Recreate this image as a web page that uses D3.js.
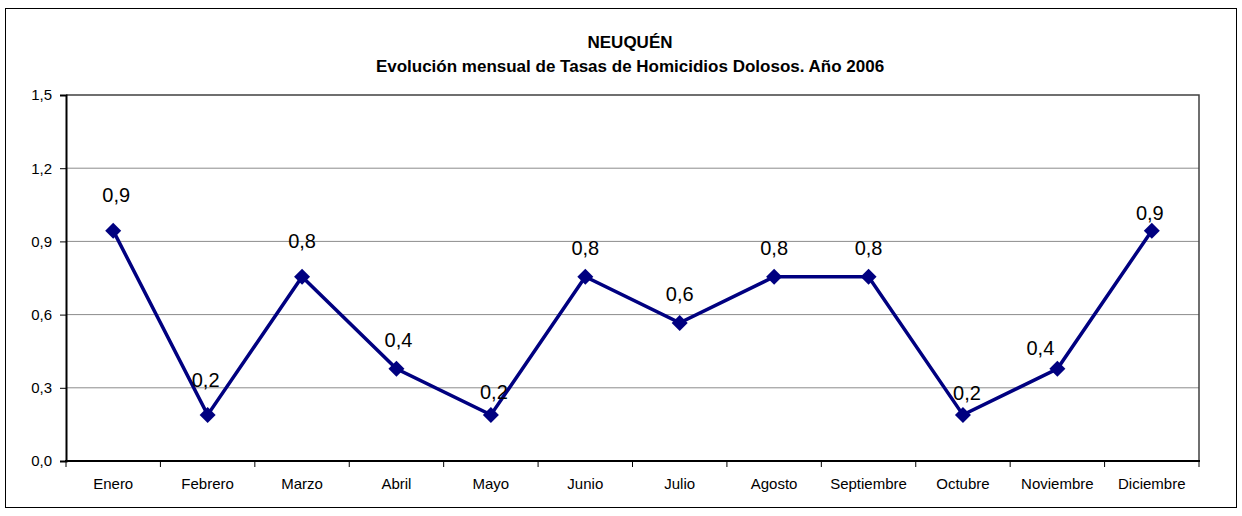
<!DOCTYPE html>
<html>
<head>
<meta charset="utf-8">
<script src="https://cdn.jsdelivr.net/npm/d3@7"></script>
<style>
  html, body { margin: 0; padding: 0; background: #fff; }
  svg { display: block; font-family: "Liberation Sans", Arial, sans-serif; }
</style>
</head>
<body>
<svg id="chart" width="1242" height="516"></svg>
<script>
// Monthly homicide rates, Neuquén 2006
const months = ["Enero", "Febrero", "Marzo", "Abril", "Mayo", "Junio", "Julio",
                "Agosto", "Septiembre", "Octubre", "Noviembre", "Diciembre"];
const rates = [0.944, 0.189, 0.755, 0.378, 0.189, 0.755, 0.566, 0.755, 0.755, 0.189, 0.378, 0.944];
const yTicks = [0, 0.3, 0.6, 0.9, 1.2, 1.5];
const titleLines = ["NEUQUÉN", "Evolución mensual de Tasas de Homicidios Dolosos. Año 2006"];

// Hand-placed data-label offsets (px) relative to each marker
const labelNudge = [[3, -36], [-2, -35], [0, -36], [2, -29], [3, -23], [0, -29],
                    [0, -29], [0, -29], [0, -29], [4, -22], [-17, -21], [-2, -18]];

const W = 1242, H = 516;
const margin = { left: 66, right: W - 1199, top: 95, bottom: H - 461 };
const svg = d3.select("#chart");

// Outer chart frame
svg.append("rect")
  .attr("x", 5.5).attr("y", 8.5)
  .attr("width", 1231).attr("height", 499)
  .attr("fill", "#fff").attr("stroke", "#000").attr("stroke-width", 1);

const x = d3.scaleBand().domain(months)
  .range([margin.left, W - margin.right]).paddingInner(0).paddingOuter(0);
const y = d3.scaleLinear().domain([0, 1.5]).range([H - margin.bottom, margin.top]);

const fmt = v => d3.format(".1f")(v).replace(".", ",");

// Horizontal gridlines
svg.append("g").selectAll("line")
  .data(yTicks.filter(t => t > 0 && t < 1.5))
  .join("line")
  .attr("x1", margin.left).attr("x2", W - margin.right)
  .attr("y1", d => y(d)).attr("y2", d => y(d))
  .attr("stroke", "#8c8c8c").attr("stroke-width", 1);

// Plot frame: top and right edges
svg.append("path")
  .attr("d", `M${margin.left},${y(1.5)}H${W - margin.right}V${y(0)}`)
  .attr("fill", "none").attr("stroke", "#404040").attr("stroke-width", 1.5);

// Y axis
const yAxis = svg.append("g")
  .attr("transform", `translate(${margin.left},0)`)
  .call(d3.axisLeft(y).tickValues(yTicks).tickFormat(fmt).tickSize(6).tickPadding(8));
yAxis.select(".domain").attr("stroke", "#000").attr("stroke-width", 2);
yAxis.selectAll(".tick line").attr("stroke", "#000").attr("stroke-width", 1);
yAxis.selectAll(".tick text").attr("font-size", 15).attr("fill", "#000")
  .attr("font-family", "Liberation Sans, Arial, sans-serif");

// X axis with ticks at category boundaries
const xAxisG = svg.append("g").attr("transform", `translate(0,${y(0)})`);
xAxisG.append("line")
  .attr("x1", margin.left - 1).attr("x2", W - margin.right + 1)
  .attr("stroke", "#000").attr("stroke-width", 2);
const bounds = months.map(m => x(m)).concat([x(months[months.length - 1]) + x.bandwidth()]);
xAxisG.selectAll("line.tk").data(bounds).join("line").attr("class", "tk")
  .attr("x1", d => d).attr("x2", d => d).attr("y1", 0).attr("y2", 6)
  .attr("stroke", "#000").attr("stroke-width", 1);
xAxisG.selectAll("text").data(months).join("text")
  .attr("x", d => x(d) + x.bandwidth() / 2)
  .attr("y", 28)
  .attr("text-anchor", "middle")
  .attr("font-size", 15)
  .attr("fill", "#000")
  .text(d => d);

// Series line
const pts = months.map((m, i) => ({ m, v: rates[i], i }));
svg.append("path")
  .datum(pts)
  .attr("d", d3.line().x(d => x(d.m) + x.bandwidth() / 2).y(d => y(d.v)))
  .attr("fill", "none").attr("stroke", "#000080").attr("stroke-width", 3.5)
  .attr("stroke-linejoin", "miter");

// Diamond markers
svg.append("g").selectAll("path")
  .data(pts).join("path")
  .attr("transform", d => `translate(${x(d.m) + x.bandwidth() / 2},${y(d.v)})`)
  .attr("d", "M0,-8L8,0L0,8L-8,0Z")
  .attr("fill", "#000080");

// Data labels
svg.append("g").selectAll("text")
  .data(pts).join("text")
  .attr("x", d => x(d.m) + x.bandwidth() / 2 + labelNudge[d.i][0])
  .attr("y", d => y(d.v) + labelNudge[d.i][1])
  .attr("dy", "0.35em")
  .attr("text-anchor", "middle")
  .attr("font-size", 20)
  .attr("fill", "#000")
  .text(d => fmt(d.v));

// Title
svg.append("g").selectAll("text")
  .data(titleLines).join("text")
  .attr("x", 630)
  .attr("y", (d, i) => 48 + i * 24)
  .attr("text-anchor", "middle")
  .attr("font-size", 17)
  .attr("font-weight", "bold")
  .attr("fill", "#000")
  .text(d => d);
</script>
</body>
</html>
